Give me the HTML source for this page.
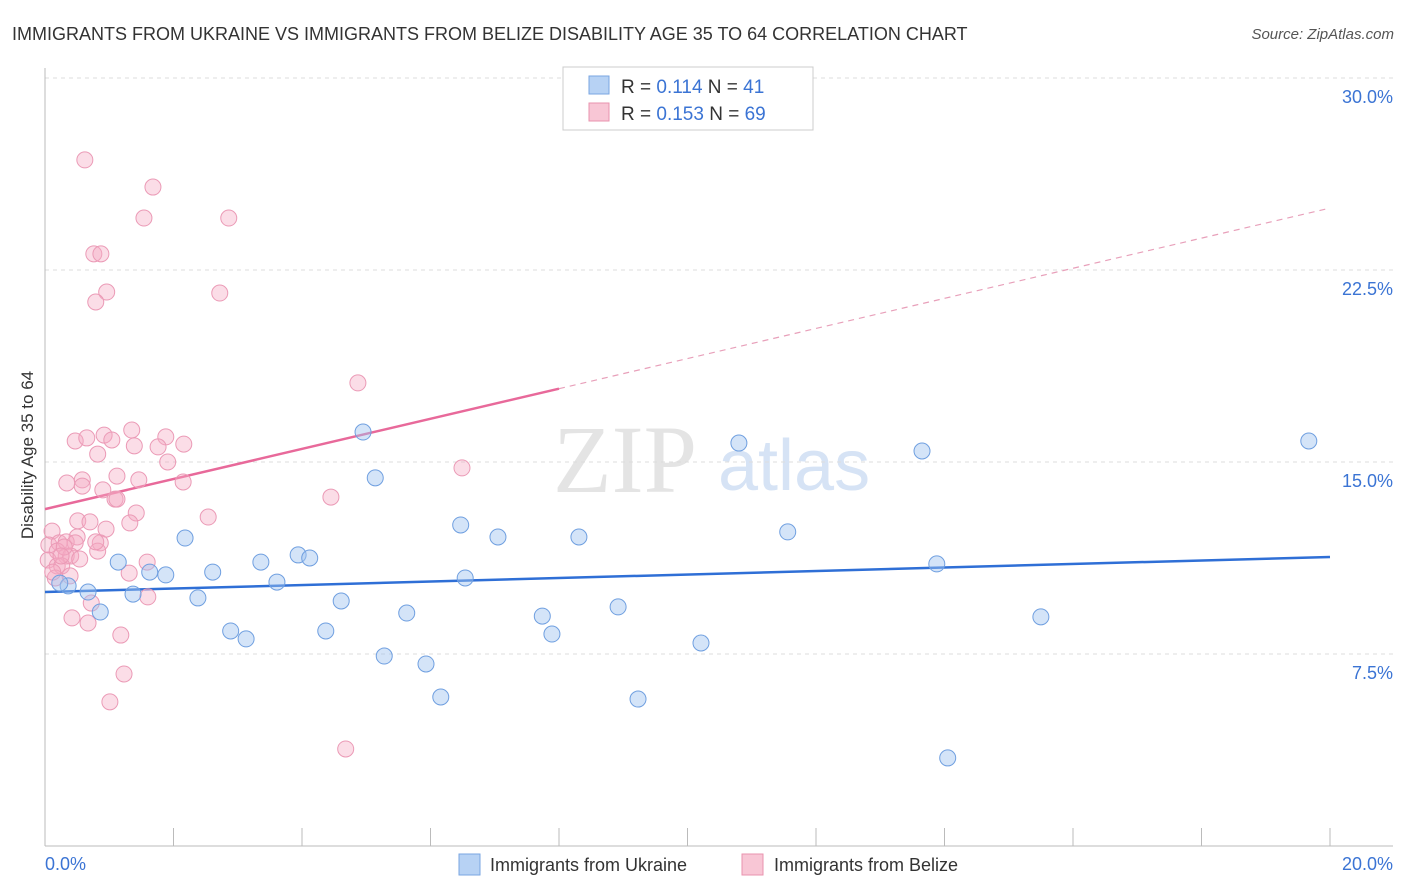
<!DOCTYPE html>
<html><head><meta charset="utf-8"><style>
body{margin:0;background:#fff;font-family:"Liberation Sans",sans-serif}
svg{display:block}
</style></head><body>
<svg width="1406" height="892" viewBox="0 0 1406 892" xmlns="http://www.w3.org/2000/svg">
<text x="12" y="40" font-size="18" fill="#333">IMMIGRANTS FROM UKRAINE VS IMMIGRANTS FROM BELIZE DISABILITY AGE 35 TO 64 CORRELATION CHART</text>
<text x="1394" y="39" font-size="15" fill="#555" font-style="italic" text-anchor="end">Source: ZipAtlas.com</text>
<text transform="translate(33,455) rotate(-90)" font-size="17" fill="#333" text-anchor="middle">Disability Age 35 to 64</text>
<g>
<text x="553" y="492" font-size="96" font-family="Liberation Serif,serif" fill="#e4e4e4">ZIP</text>
<text x="718" y="490" font-size="72" fill="#d6e3f5">atlas</text>
</g>
<g id="grid"></g>
<g id="axes"></g>
<g id="trends"></g>
<g id="points"></g>
<g>
<rect x="563" y="67" width="250" height="63" fill="#fff" stroke="#ccc"/>
<rect x="589" y="76" width="20" height="18" fill="#b7d2f4" stroke="#7aa6e2"/>
<text x="621" y="93" font-size="19" fill="#333">R = <tspan fill="#3b74d4">0.114</tspan>   N = <tspan fill="#3b74d4">41</tspan></text>
<rect x="589" y="103" width="20" height="18" fill="#f8c6d5" stroke="#e993ae"/>
<text x="621" y="120" font-size="19" fill="#333">R = <tspan fill="#3b74d4">0.153</tspan>   N = <tspan fill="#3b74d4">69</tspan></text>
</g>
<g>
<rect x="459" y="854" width="21" height="21" fill="#b7d2f4" stroke="#7aa6e2"/>
<text x="490" y="871" font-size="18" fill="#333">Immigrants from Ukraine</text>
<rect x="742" y="854" width="21" height="21" fill="#f8c6d5" stroke="#e993ae"/>
<text x="774" y="871" font-size="18" fill="#333">Immigrants from Belize</text>
</g>
</svg>
<script>
const yTicks=[7.5,15,22.5,30];
const yTickLabels=["7.5%","15.0%","22.5%","30.0%"];
const xTickCount=10;
const blueX=[0.36,0.67,0.86,1.14,1.37,1.63,1.88,2.18,2.38,2.61,2.89,3.13,3.36,3.61,3.94,4.12,4.37,4.61,4.95,5.14,5.28,5.63,5.93,6.16,6.47,6.54,7.05,7.74,7.89,8.31,8.92,9.23,10.21,10.80,11.56,13.65,13.88,14.05,15.50,19.67,0.23];
const blueY=[10.16,9.92,9.14,11.09,9.84,10.70,10.59,12.03,9.69,10.70,8.40,8.09,11.09,10.31,11.37,11.25,8.40,9.57,16.17,14.38,7.42,9.10,7.11,5.82,12.54,10.47,12.07,8.98,8.28,12.07,9.34,5.74,7.93,15.74,12.27,15.43,11.02,3.44,8.95,15.82,10.27];
const pinkX=[0.62,1.68,1.54,2.86,0.76,0.87,0.96,0.79,2.72,4.87,6.49,1.35,1.88,2.16,0.47,0.65,0.92,1.04,1.39,1.76,0.82,1.91,0.34,0.58,0.58,1.12,1.46,2.15,0.90,1.09,1.12,4.45,1.42,2.54,0.51,0.70,1.32,0.95,0.11,0.50,0.86,0.06,0.22,0.33,0.47,0.19,0.33,0.40,0.54,0.82,1.59,0.05,0.19,0.26,1.31,0.16,0.39,0.72,1.60,0.42,0.67,1.18,1.23,1.01,4.68,0.12,0.30,0.25,0.79];
const pinkY=[26.80,25.74,24.53,24.53,23.13,23.13,21.64,21.25,21.60,18.09,14.77,16.25,15.98,15.70,15.82,15.94,16.05,15.86,15.63,15.59,15.31,15.00,14.18,14.30,14.06,14.45,14.30,14.22,13.91,13.55,13.55,13.63,13.01,12.85,12.70,12.66,12.62,12.38,12.30,12.07,11.84,11.76,11.84,11.88,11.84,11.52,11.33,11.33,11.21,11.52,11.09,11.17,10.94,10.94,10.66,10.47,10.55,9.49,9.73,8.91,8.71,8.24,6.72,5.63,3.79,10.70,11.68,11.33,11.88];
const blueTrend=[9.92,11.29];
const pinkTrend=[13.16,24.92];
const pinkSolidEnd=8.0;

const NS="http://www.w3.org/2000/svg";
const X0=45,X1=1330,Y0=846,PXPER=25.6;
function sx(v){return X0+(X1-X0)*v/20;}
function sy(v){return Y0-v*PXPER;}
function mk(tag,attrs,parent){const e=document.createElementNS(NS,tag);for(const k in attrs)e.setAttribute(k,attrs[k]);parent.appendChild(e);return e;}
const grid=document.getElementById('grid'),axes=document.getElementById('axes'),trends=document.getElementById('trends'),pts=document.getElementById('points');
yTicks.forEach((t,i)=>{
 const l=mk('line',{x1:X0,x2:1393,y1:sy(t),y2:sy(t),stroke:'#ddd','stroke-dasharray':'4,4'},grid);
 
 
 const tx=mk('text',{x:1393,y:sy(t)+25,'font-size':18,fill:'#3b74d4','text-anchor':'end'},grid);
 tx.textContent=yTickLabels[i];
 
 
});
const ax=mk('line',{x1:X0,x2:X0,y1:68,y2:Y0,stroke:'#bbb'},axes);


const bx=mk('line',{x1:X0,x2:1393,y1:Y0,y2:Y0,stroke:'#bbb'},axes);


for(let i=0;i<=xTickCount;i++){
 const v=20*i/xTickCount;
 const t=mk('line',{x1:sx(v),x2:sx(v),y1:828,y2:Y0,stroke:'#bbb'},axes);
 
 
}
const xl0=mk('text',{x:45,y:870,'font-size':18,fill:'#3b74d4'},axes);xl0.textContent='0.0%';


const xl1=mk('text',{x:1393,y:870,'font-size':18,fill:'#3b74d4','text-anchor':'end'},axes);xl1.textContent='20.0%';


function lineAt(tr,x){return tr[0]+(tr[1]-tr[0])*x/20;}
const bt=mk('line',{x1:sx(0),y1:sy(lineAt(blueTrend,0)),x2:sx(20),y2:sy(lineAt(blueTrend,20)),stroke:'#2f6fd6','stroke-width':2.5},trends);


const pt=mk('line',{x1:sx(0),y1:sy(lineAt(pinkTrend,0)),x2:sx(pinkSolidEnd),y2:sy(lineAt(pinkTrend,pinkSolidEnd)),stroke:'#e8699a','stroke-width':2.5},trends);


const pd=mk('line',{x1:sx(pinkSolidEnd),y1:sy(lineAt(pinkTrend,pinkSolidEnd)),x2:sx(20),y2:sy(lineAt(pinkTrend,20)),stroke:'#e8a0ba','stroke-width':1.2,'stroke-dasharray':'6,5'},trends);


pinkX.forEach((x,i)=>{
 const c=mk('circle',{cx:sx(x),cy:sy(pinkY[i]),r:8,fill:'rgba(244,170,195,0.4)',stroke:'#eb9ab6','stroke-width':1},pts);
 
 
});
blueX.forEach((x,i)=>{
 const c=mk('circle',{cx:sx(x),cy:sy(blueY[i]),r:8,fill:'rgba(160,195,240,0.45)',stroke:'#6f9fe0','stroke-width':1},pts);
 
 
});
</script>
</body></html>
